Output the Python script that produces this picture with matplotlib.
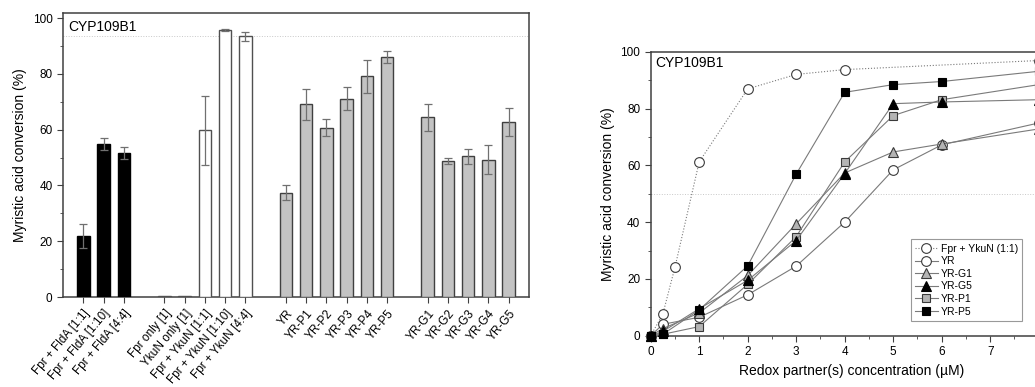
import matplotlib
matplotlib.use('Agg')
import matplotlib.pyplot as plt
from matplotlib.ticker import MultipleLocator

plt.rcParams['font.family'] = ['Liberation Sans', 'DejaVu Sans']

# bar chart data
bar_labels = ['Fpr + FldA [1:1]', 'Fpr + FldA [1:10]', 'Fpr + FldA [4:4]',
              'Fpr only [1]', 'YkuN only [1]', 'Fpr + YkuN [1:1]', 'Fpr + YkuN [1:10]', 'Fpr + YkuN [4:4]',
              'YR', 'YR-P1', 'YR-P2', 'YR-P3', 'YR-P4', 'YR-P5',
              'YR-G1', 'YR-G2', 'YR-G3', 'YR-G4', 'YR-G5']
bar_pos = [1, 2, 3, 5, 6, 7, 8, 9, 11, 12, 13, 14, 15, 16, 18, 19, 20, 21, 22]
bar_vals = [22.0, 54.8, 51.6, 0.3, 0.3, 59.7, 95.8, 93.4,
            37.4, 69.1, 60.7, 71.1, 79.1, 85.9,
            64.4, 48.6, 50.4, 49.2, 62.8]
bar_err = [4.3, 2.1, 2.2, 0, 0, 12.5, 0.3, 1.7,
           2.8, 5.5, 3.0, 4.1, 6.0, 2.2,
           4.8, 1.1, 2.8, 5.2, 5.1]
bar_kind = ['black'] * 3 + ['white'] * 5 + ['gray'] * 11

# titration data
conc = [0, 0.25, 0.5, 1, 2, 3, 4, 8]
fpr_ykun = [0, 7.6, 24.1, 61.2, 86.9, 92.0, 93.7, 96.9]
conc2 = [0, 0.25, 1, 2, 3, 4, 5, 6, 8]
yr = [0, 4.0, 6.5, 14.4, 24.5, 40.0, 58.4, 67.2, 74.9]
yr_g1 = [0, 2.5, 8.0, 21.2, 39.4, 57.3, 64.7, 67.5, 72.8]
yr_g5 = [0, 1.5, 9.5, 19.5, 33.5, 57.1, 81.7, 82.3, 83.1]
yr_p1 = [0, 0.5, 3.2, 18.1, 34.9, 61.2, 77.5, 83.1, 88.4]
yr_p5 = [0, 0.5, 9.1, 24.6, 56.9, 85.7, 88.4, 89.5, 93.1]

W, H = 1035, 387
fig = plt.figure(figsize=(W / 100, H / 100), dpi=100)

spine_c = '#404040'

# ---- left: bar chart
ax1 = fig.add_axes([63 / W, 1 - 297 / H, (529 - 63) / W, (297 - 13) / H])
fills = {'black': 'black', 'white': 'white', 'gray': '#c3c3c3'}
edges = {'black': 'black', 'white': '#505050', 'gray': '#404040'}
for p, v, e, k in zip(bar_pos, bar_vals, bar_err, bar_kind):
    ax1.bar(p, v, width=0.62, color=fills[k], edgecolor=edges[k], linewidth=1.0, zorder=3)
    if e > 0:
        ax1.errorbar(p, v, yerr=e, fmt='none', ecolor='#707070', elinewidth=0.9,
                     capsize=3, capthick=0.9, zorder=4)
ax1.axhline(93.4, color='#c8c8c8', lw=0.7, ls=':', zorder=1)
ax1.set_xlim(0, 23)
ax1.set_ylim(0, 101.8)
ax1.set_xticks(bar_pos)
ax1.set_xticklabels(bar_labels, rotation=50, ha='right', rotation_mode='anchor', fontsize=8.5)
ax1.yaxis.set_major_locator(MultipleLocator(20))
ax1.yaxis.set_minor_locator(MultipleLocator(10))
ax1.tick_params(axis='y', labelsize=8.5, direction='out', length=4, color=spine_c)
ax1.tick_params(axis='y', which='minor', length=2.5, color=spine_c)
ax1.tick_params(axis='x', direction='out', length=4, color=spine_c)
ax1.set_ylabel('Myristic acid conversion (%)', fontsize=10)
ax1.text(0.012, 0.975, 'CYP109B1', transform=ax1.transAxes, fontsize=10, va='top', ha='left')
for s in ax1.spines.values():
    s.set_color(spine_c)
    s.set_linewidth(1.1)

# ---- right: titration curves
x0, x1 = 650.7, 1053
ax2 = fig.add_axes([x0 / W, 1 - 335.7 / H, (x1 - x0) / W, (335.7 - 51.7) / H])
ax2.axhline(50, color='#c8c8c8', lw=0.7, ls=':', zorder=1)
lc = '#7a7a7a'
mc = '#3a3a3a'
ax2.plot(conc, fpr_ykun, ls=':', color=lc, lw=0.8, marker='o', ms=7, mfc='white', mec=mc,
         mew=0.8, label='Fpr + YkuN (1:1)', clip_on=False, zorder=3)
ax2.plot(conc2, yr, ls='-', color=lc, lw=0.8, marker='o', ms=7, mfc='white', mec=mc,
         mew=0.8, label='YR', clip_on=False, zorder=3)
ax2.plot(conc2, yr_g1, ls='-', color=lc, lw=0.8, marker='^', ms=7, mfc='#b4b4b4', mec=mc,
         mew=0.8, label='YR-G1', clip_on=False, zorder=4)
ax2.plot(conc2, yr_g5, ls='-', color=lc, lw=0.8, marker='^', ms=7, mfc='black', mec='black',
         mew=0.8, label='YR-G5', clip_on=False, zorder=5)
ax2.plot(conc2, yr_p1, ls='-', color=lc, lw=0.8, marker='s', ms=6, mfc='#b4b4b4', mec=mc,
         mew=0.8, label='YR-P1', clip_on=False, zorder=4)
ax2.plot(conc2, yr_p5, ls='-', color=lc, lw=0.8, marker='s', ms=6, mfc='black', mec='black',
         mew=0.8, label='YR-P5', clip_on=False, zorder=5)
ax2.set_xlim(0, (x1 - x0) / 48.5)
ax2.set_ylim(0, 100)
ax2.xaxis.set_major_locator(MultipleLocator(1))
ax2.xaxis.set_minor_locator(MultipleLocator(0.5))
ax2.yaxis.set_major_locator(MultipleLocator(20))
ax2.yaxis.set_minor_locator(MultipleLocator(10))
ax2.tick_params(labelsize=8.5, direction='out', length=4, color=spine_c)
ax2.tick_params(which='minor', length=2.5, color=spine_c)
ax2.set_xlabel('Redox partner(s) concentration (µM)', fontsize=10)
ax2.set_ylabel('Myristic acid conversion (%)', fontsize=10)
ax2.text(0.012, 0.985, 'CYP109B1', transform=ax2.transAxes, fontsize=10, va='top', ha='left')
for s in ax2.spines.values():
    s.set_color(spine_c)
    s.set_linewidth(1.1)
leg = ax2.legend(loc='lower right', bbox_to_anchor=(1027.7 / W, 1 - 326 / H),
                 bbox_transform=fig.transFigure, fontsize=7.5, frameon=True, fancybox=False,
                 handlelength=2.2, handletextpad=0.3, labelspacing=0.25, borderpad=0.4)
leg.get_frame().set_edgecolor('#808080')
leg.get_frame().set_linewidth(0.8)

fig.savefig('out.png', dpi=100)
